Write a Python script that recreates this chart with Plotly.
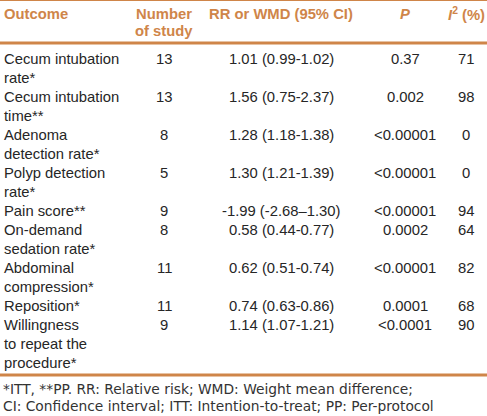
import plotly.graph_objects as go

W, H = 487, 416

headers = ["Outcome", "Number<br>of study", "RR or WMD (95% CI)", "<i>P</i>", "<i>I</i><sup>2</sup> (%)"]
outcome_lines = [
    ["Cecum intubation", "rate*"],
    ["Cecum intubation", "time**"],
    ["Adenoma", "detection rate*"],
    ["Polyp detection", "rate*"],
    ["Pain score**"],
    ["On-demand", "sedation rate*"],
    ["Abdominal", "compression*"],
    ["Reposition*"],
    ["Willingness", "to repeat the", "procedure*"],
]
n_studies = ["13", "13", "8", "5", "9", "8", "11", "11", "9"]
rr_wmd = ["1.01 (0.99-1.02)", "1.56 (0.75-2.37)", "1.28 (1.18-1.38)", "1.30 (1.21-1.39)",
          "-1.99 (-2.68\u20131.30)", "0.58 (0.44-0.77)", "0.62 (0.51-0.74)",
          "0.74 (0.63-0.86)", "1.14 (1.07-1.21)"]
p_values = ["0.37", "0.002", "<0.00001", "<0.00001", "<0.00001", "0.0002", "<0.00001",
            "0.0001", "<0.0001"]
i2_values = ["71", "98", "0", "0", "94", "64", "82", "68", "90"]
footnotes = ["*ITT, **PP. RR: Relative risk; WMD: Weight mean difference;",
             "CI: Confidence interval; ITT: Intention-to-treat; PP: Per-protocol"]

ORANGE = "#CF8549"
TXT = "#262626"
FONT = "Liberation Sans, Arial, sans-serif"
FONT_FOOT = "DejaVu Sans, Verdana, sans-serif"
FS = 14.8

col_x = [2, 164, 281, 405, 466]
line_h = 19.0
first_y = 59.0


def px(x):
    return x / W


def py(y):
    return 1 - y / H


annotations = []


def add(text, x, y, anchor="center", color=TXT, size=FS, bold=False, family=FONT):
    if bold:
        text = "<b>" + text + "</b>"
    annotations.append(dict(
        text=text, x=px(x), y=py(y), xref="paper", yref="paper",
        xanchor=anchor, yanchor="middle", showarrow=False,
        font=dict(family=family, size=size, color=color)))


# header
add("Outcome", col_x[0], 14, anchor="left", color=ORANGE, bold=True)
num_lines = headers[1].split("<br>")
add(num_lines[0], col_x[1], 14, color=ORANGE, bold=True)
add(num_lines[1], col_x[1], 31, color=ORANGE, bold=True)
add(headers[2], col_x[2], 14, color=ORANGE, bold=True)
add(headers[3], col_x[3], 14, color=ORANGE, bold=True)
add(headers[4], col_x[4], 14, color=ORANGE, bold=True)

# body
line = 0
for i, lines in enumerate(outcome_lines):
    y0 = first_y + line * line_h
    for k, t in enumerate(lines):
        add(t, col_x[0], y0 + k * line_h, anchor="left")
    add(n_studies[i], col_x[1], y0)
    add(rr_wmd[i], col_x[2], y0)
    add(p_values[i], col_x[3], y0)
    add(i2_values[i], col_x[4], y0)
    line += len(lines)

# footnotes
add(footnotes[0], 1, 389, anchor="left", size=13.8, family=FONT_FOOT, color="#333333")
add(footnotes[1], 1, 406, anchor="left", size=13.8, family=FONT_FOOT, color="#333333")

shapes = [
    dict(type="line", xref="paper", yref="paper", x0=0, x1=1, y0=py(0.5), y1=py(0.5),
         line=dict(color=ORANGE, width=1)),
    dict(type="line", xref="paper", yref="paper", x0=0, x1=1, y0=py(43), y1=py(43),
         line=dict(color=ORANGE, width=3)),
    dict(type="line", xref="paper", yref="paper", x0=0, x1=1, y0=py(375), y1=py(375),
         line=dict(color=ORANGE, width=3)),
]

fig = go.Figure()
fig.update_layout(
    width=W, height=H, margin=dict(l=0, r=0, t=0, b=0),
    paper_bgcolor="white", plot_bgcolor="white",
    xaxis=dict(visible=False, range=[0, 1]), yaxis=dict(visible=False, range=[0, 1]),
    annotations=annotations, shapes=shapes, showlegend=False,
)
fig.write_html("out.html", config={"displayModeBar": False},
               post_script="document.body.style.margin='0';document.body.style.overflow='hidden';")
